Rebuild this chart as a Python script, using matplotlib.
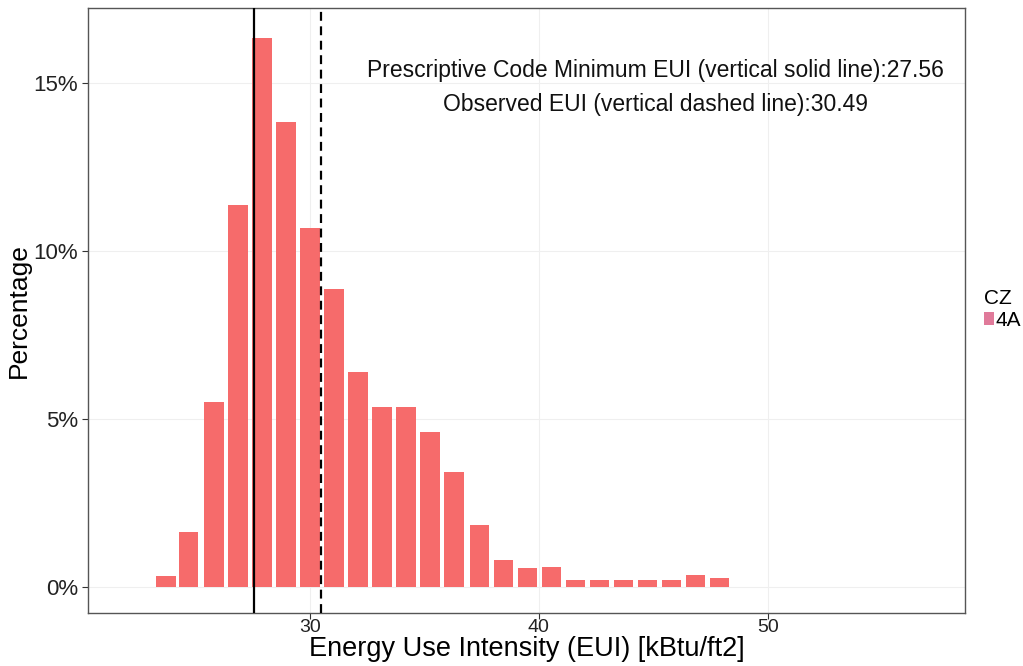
import matplotlib
matplotlib.use("Agg")
import matplotlib.pyplot as plt
from matplotlib.patches import Patch
from matplotlib.ticker import FuncFormatter

# bin centres (kBtu/ft2) and share of buildings (%)
eui_bins = [23.7, 24.7, 25.8, 26.85, 27.9, 28.95, 30.0, 31.05, 32.1, 33.15,
            34.2, 35.25, 36.3, 37.4, 38.45, 39.5, 40.55, 41.6, 42.65, 43.7,
            44.75, 45.8, 46.85, 47.9]
pct = [0.33, 1.64, 5.51, 11.37, 16.34, 13.84, 10.68, 8.87, 6.40, 5.36,
       5.36, 4.61, 3.42, 1.85, 0.80, 0.57, 0.60, 0.21, 0.21, 0.21,
       0.21, 0.21, 0.36, 0.27]

code_min = 27.56
observed = 30.49
x_ticks = [30, 40, 50]
y_ticks = [0, 5, 10, 15]

plt.rcParams['font.family'] = ['Liberation Sans', 'DejaVu Sans']

fig = plt.figure(figsize=(10.23, 6.66), dpi=100)
ax = fig.add_axes([0.086, 0.0796, 0.857, 0.908])

bar_col = '#F66B6B'
ax.bar(eui_bins, pct, width=0.85, color=bar_col, zorder=2)

ax.axvline(code_min, color='black', linewidth=1.6, zorder=3)
ax.axvline(observed, color='black', linewidth=1.6, linestyle=(0, (4, 2.5)), zorder=3)

ax.set_xlim(20.3, 58.6)
ax.set_ylim(-0.77, 17.23)

ax.set_xticks(x_ticks)
ax.set_yticks(y_ticks)
ax.yaxis.set_major_formatter(FuncFormatter(lambda v, p: '%d%%' % v))
ax.grid(True, color='#EFEFEF', linewidth=0.8, zorder=0)
ax.set_axisbelow(True)

for s in ax.spines.values():
    s.set_color('#555555')
    s.set_linewidth(1.0)
ax.tick_params(length=4, width=0.8, color='#333333', labelcolor='#222222')
ax.tick_params(axis='y', labelsize=16, pad=3)
ax.tick_params(axis='x', labelsize=14, pad=0)

ax.set_xlabel('Energy Use Intensity (EUI) [kBtu/ft2]', fontsize=19.5, labelpad=0)
ax.set_ylabel('Percentage', fontsize=19, labelpad=2)

ax.text(0.647, 0.897, 'Prescriptive Code Minimum EUI (vertical solid line):27.56',
        transform=ax.transAxes, ha='center', va='center', fontsize=16.5, color='#111111')
ax.text(0.647, 0.841, 'Observed EUI (vertical dashed line):30.49',
        transform=ax.transAxes, ha='center', va='center', fontsize=16.5, color='#111111')

leg = fig.legend(handles=[Patch(facecolor='#E07A9A', edgecolor='none')], labels=['4A'],
                 title='CZ', loc='upper left', bbox_to_anchor=(0.952, 0.582),
                 frameon=False, handlelength=0.45, handleheight=0.6, handletextpad=0.1,
                 fontsize=15, title_fontsize=15, borderpad=0, labelspacing=0.15)
leg._legend_box.align = 'left'

fig.savefig('out.png', dpi=100)
